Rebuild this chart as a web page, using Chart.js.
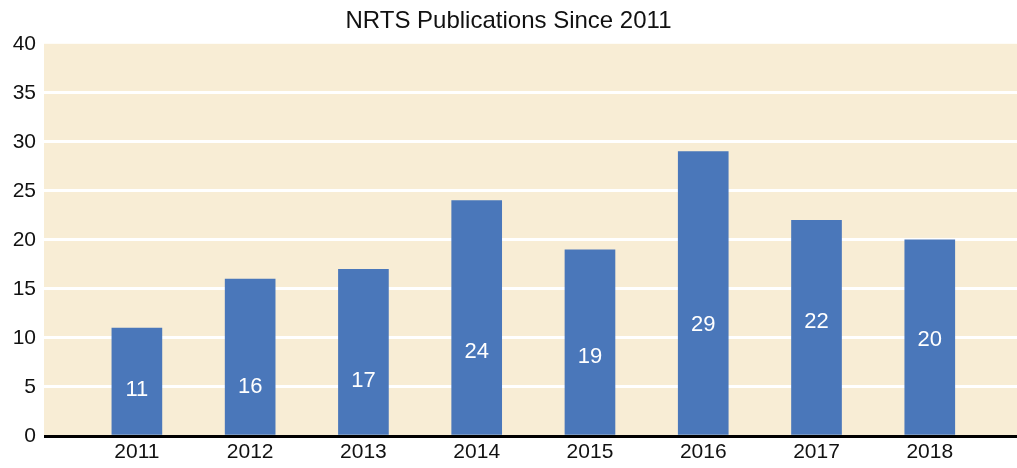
<!DOCTYPE html>
<html>
<head>
<meta charset="utf-8">
<script src="https://cdn.jsdelivr.net/npm/chart.js@4"></script>
<style>
  html, body { margin: 0; padding: 0; background: #fff; }
  #wrap { width: 1017px; height: 468px; }
</style>
</head>
<body>
<div id="wrap"><canvas id="barChart"></canvas></div>
<script>
// data
const years = [2011, 2012, 2013, 2014, 2015, 2016, 2017, 2018];
const publications = [11, 16, 17, 24, 19, 29, 22, 20];
const yTicks = [0, 5, 10, 15, 20, 25, 30, 35, 40];
// where the value labels sit inside each bar (in y units)
const labelAt = [4.7, 5.0, 5.6, 8.6, 8.1, 11.3, 11.6, 9.8];

const narrow = "'Liberation Sans Narrow', 'Arial Narrow', Arial, sans-serif";

// beige plot area behind everything
const plotBg = {
  id: 'plotBg',
  beforeDraw(chart) {
    const { ctx, chartArea: a } = chart;
    ctx.save();
    ctx.fillStyle = '#F8EDD5';
    ctx.fillRect(a.left, a.top, a.right - a.left, a.bottom - a.top);
    ctx.restore();
  }
};

// white numbers inside the bars
const barLabels = {
  id: 'barLabels',
  afterDatasetsDraw(chart) {
    const { ctx } = chart;
    const yScale = chart.scales.y;
    const meta = chart.getDatasetMeta(0);
    ctx.save();
    ctx.fillStyle = '#ffffff';
    ctx.font = '22px ' + narrow;
    ctx.textAlign = 'center';
    ctx.textBaseline = 'middle';
    meta.data.forEach((bar, i) => {
      ctx.fillText(String(publications[i]), bar.x, yScale.getPixelForValue(labelAt[i]));
    });
    ctx.restore();
  }
};

const ctxBar = document.getElementById('barChart').getContext('2d');
const barChart = new Chart(ctxBar, {
  type: 'bar',
  data: {
    datasets: [{
      label: 'Publications',
      data: years.map((yr, i) => ({ x: yr, y: publications[i] })),
      backgroundColor: '#4A77BA',
      barThickness: 50,
      borderWidth: 0
    }]
  },
  plugins: [plotBg, barLabels],
  options: {
    responsive: true,
    maintainAspectRatio: false,
    animation: false,
    layout: { padding: { left: 0, right: 0, top: 0, bottom: 0 } },
    plugins: {
      legend: { display: false },
      tooltip: { enabled: false },
      title: {
        display: true,
        text: 'NRTS Publications Since 2011',
        color: '#111',
        font: { family: 'Arial, "Liberation Sans", sans-serif', size: 24, weight: 'normal' },
        padding: { top: 7, bottom: 8 }
      }
    },
    scales: {
      x: {
        type: 'linear',
        offset: false,
        min: 2010.18,
        max: 2018.77,
        afterBuildTicks(axis) { axis.ticks = years.map(v => ({ value: v })); },
        afterFit(axis) { axis.height = 32; },
        grid: { display: false, drawTicks: false },
        border: { display: false },
        ticks: {
          color: '#111',
          padding: 4,
          font: { family: narrow, size: 21 },
          callback: v => String(v)
        }
      },
      y: {
        min: 0,
        max: 40,
        afterBuildTicks(axis) { axis.ticks = yTicks.map(v => ({ value: v })); },
        afterFit(axis) { axis.width = 44; },
        grid: {
          drawTicks: false,
          lineWidth: 3,
          color: c => c.tick.value === 0 ? '#000' : (c.tick.value === 40 ? 'rgba(0,0,0,0)' : '#ffffff')
        },
        border: { display: false },
        ticks: {
          color: '#111',
          padding: 8,
          font: { family: narrow, size: 21 }
        }
      }
    }
  }
});
</script>
</body>
</html>
